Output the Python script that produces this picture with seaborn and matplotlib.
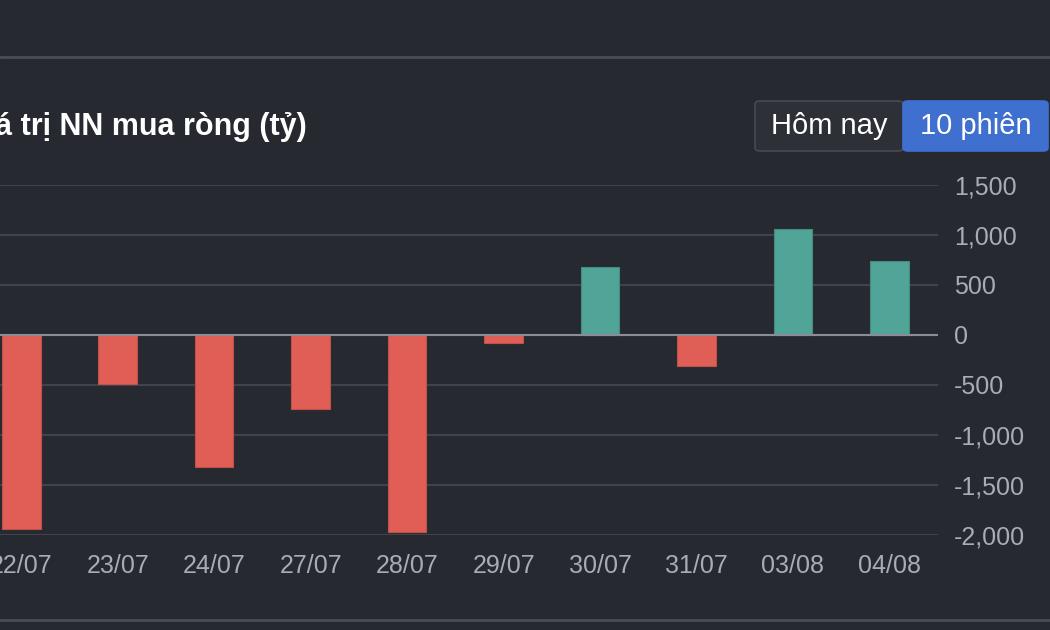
import matplotlib
matplotlib.use("Agg")
import matplotlib.pyplot as plt
import matplotlib.ticker as ticker
from matplotlib.patches import FancyBboxPatch
from matplotlib.lines import Line2D
import seaborn as sns

# dữ liệu (tỷ đồng)
dates = ["22/07", "23/07", "24/07", "27/07", "28/07", "29/07", "30/07", "31/07", "03/08", "04/08"]
net_buy = [-1935, -485, -1320, -735, -1970, -80, 683, -307, 1057, 743]
y_ticks = [-2000, -1500, -1000, -500, 0, 500, 1000, 1500]

BG = "#262930"
RED = "#e05e56"
GREEN = "#50a598"
GRID = "#40434b"
TEXT = "#a9acb3"

sns.set_theme(style="dark")
plt.rcParams["font.family"] = ["Liberation Sans", "DejaVu Sans"]

fig = plt.figure(figsize=(10.5, 6.3), dpi=100, facecolor=BG)
ax = fig.add_axes([-27 / 1050, 95 / 630, 964.7 / 1050, 350 / 630])
ax.set_facecolor(BG)

colors = [GREEN if v > 0 else RED for v in net_buy]
sns.barplot(x=dates, y=net_buy, hue=dates, palette=colors, legend=False,
            saturation=1, width=0.4, linewidth=0.8, ax=ax)
for bar, c in zip(ax.patches, colors):
    bar.set_edgecolor("#448c82" if c == GREEN else "#c0504a")

ax.set_xlim(-0.5, 9.5)
ax.set_ylim(-2000, 1500)
ax.yaxis.set_major_locator(ticker.FixedLocator(y_ticks))
ax.yaxis.set_major_formatter(ticker.FuncFormatter(lambda v, p: f"{v:,.0f}"))
ax.yaxis.tick_right()
ax.grid(axis="y", color=GRID, linewidth=1.5, zorder=0)
ax.grid(axis="x", visible=False)
ax.set_axisbelow(True)
ax.axhline(0, color="#8a8d96", linewidth=1.5, zorder=1)
for s in ax.spines.values():
    s.set_visible(False)
ax.tick_params(axis="y", length=0, pad=12, labelsize=18, labelcolor=TEXT)
ax.tick_params(axis="x", length=0, pad=14, labelsize=18, labelcolor=TEXT)
for lab in ax.get_yticklabels():
    lab.set_horizontalalignment("left")
ax.set_xlabel("")
ax.set_ylabel("")

# tiêu đề (bị cắt ở mép trái như ảnh gốc)
fig.text(-37 / 1050, (630 - 135) / 630, "Giá trị NN mua ròng (tỷ)", color="white",
         fontsize=22, fontweight="bold", ha="left", va="baseline")

# hai nút chọn
fig.patches.append(FancyBboxPatch((755 / 1050, (630 - 151) / 630), 148 / 1050, 50 / 630,
                                  boxstyle="round,pad=0,rounding_size=0.005",
                                  transform=fig.transFigure, facecolor="#2d3037",
                                  edgecolor="#474a52", linewidth=1.2))
fig.patches.append(FancyBboxPatch((903 / 1050, (630 - 151) / 630), 145 / 1050, 50 / 630,
                                  boxstyle="round,pad=0,rounding_size=0.005",
                                  transform=fig.transFigure, facecolor="#3f6fcf",
                                  edgecolor="#3f6fcf", linewidth=1.2))
fig.text(829 / 1050, (630 - 126) / 630, "Hôm nay", color="white", fontsize=21,
         ha="center", va="center")
fig.text(976 / 1050, (630 - 126) / 630, "10 phiên", color="white", fontsize=21,
         ha="center", va="center")

# đường phân cách trên và dưới
fig.add_artist(Line2D([0, 1], [(630 - 57) / 630] * 2, transform=fig.transFigure,
                      color="#4a4d55", linewidth=2))
fig.add_artist(Line2D([0, 1], [(630 - 620) / 630] * 2, transform=fig.transFigure,
                      color="#4a4d55", linewidth=2))

fig.savefig("out.png", dpi=100, facecolor=BG)
